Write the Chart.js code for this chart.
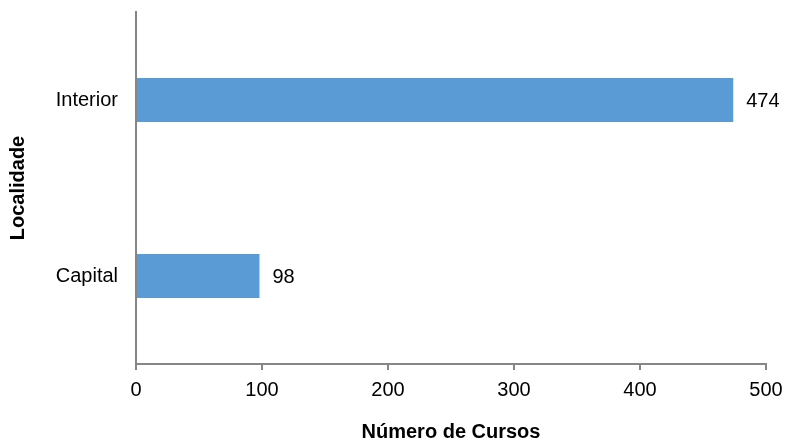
<!DOCTYPE html>
<html><head><meta charset="utf-8">
<script src="https://cdn.jsdelivr.net/npm/chart.js@4"></script>
<style>html,body{margin:0;padding:0;background:#fff}#w{width:786px;height:439px}</style>
</head><body><div id="w"><canvas id="c"></canvas></div>
<script>
const categories = ['Interior', 'Capital'];
const cursos = [474, 98];
const xTicks = [0, 100, 200, 300, 400, 500];
const FONT = "'Liberation Sans', Arial, sans-serif";

const labelPlugin = {
  id: 'valueLabels',
  afterDatasetsDraw(chart) {
    const ctx = chart.ctx;
    const meta = chart.getDatasetMeta(0);
    ctx.save();
    ctx.font = '20px ' + FONT;
    ctx.fillStyle = '#000';
    ctx.textAlign = 'left';
    ctx.textBaseline = 'middle';
    meta.data.forEach((bar, i) => {
      ctx.fillText(String(cursos[i]), bar.x + 13, bar.y + 1);
    });
    ctx.restore();
  }
};

new Chart(document.getElementById('c'), {
  type: 'bar',
  data: {
    labels: categories,
    datasets: [{
      data: cursos,
      backgroundColor: '#5B9BD5',
      borderWidth: 0,
      categoryPercentage: 0.5,
      barPercentage: 0.5
    }]
  },
  options: {
    indexAxis: 'y',
    responsive: true,
    maintainAspectRatio: false,
    animation: false,
    layout: { padding: { top: 12, right: 20, left: 0, bottom: 0 } },
    plugins: { legend: { display: false }, tooltip: { enabled: false } },
    scales: {
      x: {
        min: 0, max: 500,
        afterBuildTicks(axis) { axis.ticks = xTicks.map(v => ({ value: v })); },
        afterFit(axis) { axis.height = 75; axis.paddingLeft = 0; axis.paddingRight = 0; },
        grid: { drawOnChartArea: false, drawTicks: true, tickLength: 6, color: '#868686', lineWidth: 2 },
        border: { color: '#868686', width: 2 },
        ticks: { color: '#000', font: { family: FONT, size: 20 }, padding: 8, maxRotation: 0 },
        title: { display: true, text: 'Número de Cursos', color: '#000', font: { family: FONT, size: 20, weight: 'bold' }, padding: { top: -5, bottom: -5 } }
      },
      y: {
        afterFit(axis) { axis.width = 136; axis.paddingTop = 0; axis.paddingBottom = 0; },
        grid: { display: false, drawTicks: false },
        border: { color: '#868686', width: 2 },
        ticks: { color: '#000', font: { family: FONT, size: 20 }, padding: 18 },
        title: { display: true, text: 'Localidade', color: '#000', font: { family: FONT, size: 20, weight: 'bold' }, padding: { top: 6, bottom: 0 } }
      }
    }
  },
  plugins: [labelPlugin]
});
</script>
</body></html>
